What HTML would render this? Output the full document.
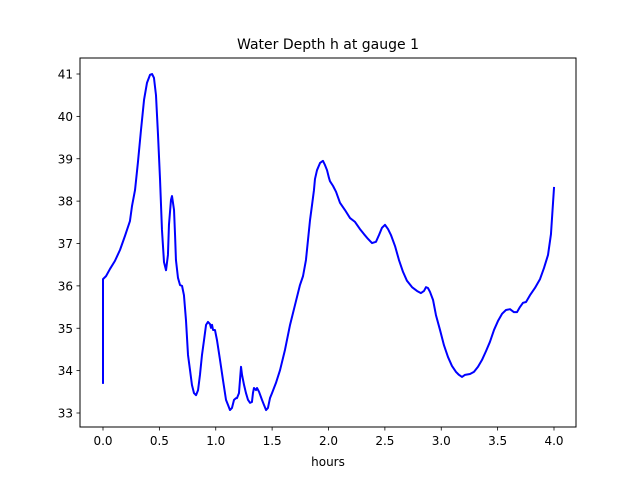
<!DOCTYPE html>
<html><head><meta charset="utf-8"><style>
html,body{margin:0;padding:0;background:#fff;}
svg{display:block;font-family:"DejaVu Sans","Liberation Sans",sans-serif;}
</style></head><body>
<svg id="chart" width="640" height="480">
<rect x="0" y="0" width="640" height="480" fill="#fff"/>
<text x="328" y="49" font-size="14" text-anchor="middle" fill="#000">Water Depth h at gauge 1</text>
<g id="plot"></g>
<rect x="80" y="58" width="496" height="369" fill="none" stroke="#000" stroke-width="1"/>
<text x="328" y="466" font-size="12" text-anchor="middle" fill="#000">hours</text>
</svg>
<script>
const hours=[0,0,0.027,0.062,0.106,0.151,0.195,0.239,0.257,0.284,0.310,0.337,0.364,0.390,0.417,0.435,0.452,0.470,0.488,0.506,0.523,0.541,0.559,0.576,0.585,0.603,0.612,0.630,0.639,0.647,0.665,0.683,0.701,0.718,0.736,0.754,0.772,0.789,0.807,0.825,0.843,0.860,0.878,0.896,0.914,0.931,0.949,0.958,0.967,0.976,0.993,1.011,1.038,1.064,1.091,1.109,1.126,1.144,1.162,1.180,1.188,1.206,1.215,1.224,1.233,1.251,1.268,1.286,1.304,1.321,1.330,1.339,1.357,1.366,1.384,1.410,1.428,1.446,1.463,1.481,1.499,1.534,1.570,1.614,1.659,1.703,1.747,1.774,1.800,1.818,1.836,1.854,1.871,1.880,1.898,1.925,1.951,1.969,1.987,2.004,2.013,2.040,2.067,2.102,2.146,2.191,2.235,2.279,2.315,2.350,2.386,2.421,2.448,2.474,2.501,2.528,2.554,2.590,2.625,2.661,2.696,2.741,2.785,2.820,2.847,2.865,2.882,2.900,2.927,2.953,2.989,3.024,3.060,3.095,3.131,3.157,3.184,3.211,3.255,3.290,3.326,3.361,3.397,3.432,3.468,3.503,3.539,3.574,3.610,3.645,3.672,3.698,3.725,3.752,3.787,3.831,3.876,3.911,3.947,3.973,4.000];
const depth=[33.71,36.16,36.23,36.40,36.59,36.85,37.18,37.53,37.88,38.26,38.92,39.68,40.39,40.79,40.98,41.00,40.91,40.50,39.56,38.50,37.32,36.56,36.37,36.73,37.44,38.03,38.12,37.79,37.20,36.61,36.19,36.02,36.00,35.78,35.19,34.37,34.01,33.66,33.47,33.42,33.54,33.90,34.37,34.72,35.08,35.15,35.10,35.01,35.08,34.96,34.96,34.72,34.25,33.78,33.31,33.19,33.07,33.12,33.31,33.35,33.35,33.47,33.78,34.09,33.90,33.66,33.47,33.31,33.24,33.26,33.47,33.59,33.54,33.59,33.50,33.31,33.19,33.07,33.12,33.35,33.47,33.71,34.01,34.49,35.08,35.55,36.02,36.23,36.61,37.08,37.55,37.91,38.26,38.52,38.73,38.90,38.95,38.85,38.73,38.55,38.47,38.36,38.22,37.96,37.79,37.60,37.51,37.34,37.22,37.11,37.01,37.04,37.20,37.37,37.44,37.34,37.20,36.94,36.61,36.33,36.12,35.97,35.88,35.83,35.88,35.97,35.95,35.86,35.67,35.31,34.96,34.60,34.32,34.11,33.97,33.90,33.85,33.90,33.92,33.97,34.09,34.25,34.46,34.68,34.96,35.17,35.34,35.43,35.45,35.38,35.38,35.50,35.60,35.62,35.78,35.95,36.16,36.42,36.73,37.22,38.31];
const xTicks=[0,0.5,1,1.5,2,2.5,3,3.5,4];
const xTickLabels=["0.0","0.5","1.0","1.5","2.0","2.5","3.0","3.5","4.0"];
const yTicks=[33,34,35,36,37,38,39,40,41];
const yTickLabels=["33","34","35","36","37","38","39","40","41"];

const NS="http://www.w3.org/2000/svg";
const plot=document.getElementById('plot');
function xs(v){return 103+v*112.75;}
function ys(v){return 74+(41-v)*42.375;}
function mk(tag,attrs){const e=document.createElementNS(NS,tag);for(const k in attrs)e.setAttribute(k,attrs[k]);plot.appendChild(e);return e;}

xTicks.forEach((t,i)=>{
  const l=mk('line',{x1:xs(t),x2:xs(t),y1:427,y2:430.5,stroke:'#000','stroke-width':0.8});
  
  
  const tx=mk('text',{x:xs(t),y:445,'font-size':12,'text-anchor':'middle',fill:'#000'});
  tx.textContent=xTickLabels[i];
  
  
});
yTicks.forEach((t,i)=>{
  const l=mk('line',{x1:76.5,x2:80,y1:ys(t),y2:ys(t),stroke:'#000','stroke-width':0.8});
  
  
  const tx=mk('text',{x:73,y:ys(t)+4.5,'font-size':12,'text-anchor':'end',fill:'#000'});
  tx.textContent=yTickLabels[i];
  
  
});
let d='';
hours.forEach((h,i)=>{d+=(i?'L':'M')+xs(h).toFixed(2)+' '+ys(depth[i]).toFixed(2);});
const p=mk('path',{d:d,fill:'none',stroke:'#0000ff','stroke-width':2,'stroke-linejoin':'round','stroke-linecap':'square'});


</script>
</body></html>
